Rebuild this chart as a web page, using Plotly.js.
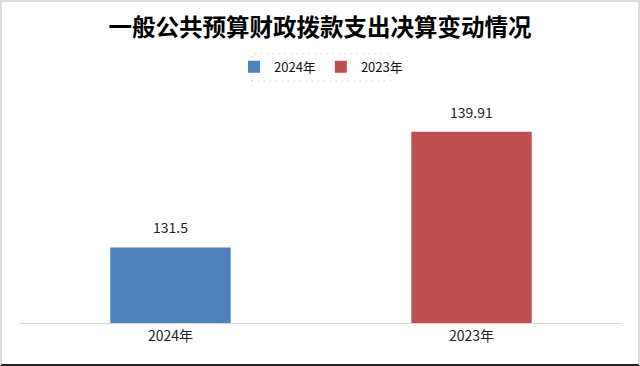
<!DOCTYPE html>
<html>
<head>
<meta charset="utf-8">
<script src="https://cdn.plot.ly/plotly-3.0.1.min.js"></script>
<style>
  html, body { margin: 0; padding: 0; background: #fff; }
  #frame { position: absolute; left: 0; top: 0; width: 640px; height: 366px; box-sizing: border-box;
           border-top: 2px solid #dcdcdc; border-left: 2px solid #dcdcdc; border-right: 2px solid #dcdcdc; border-bottom: 2px solid #222; }
  #chart { position: absolute; left: 0; top: 0; width: 636px; height: 362px; }
</style>
</head>
<body>
<div id="frame"><div id="chart"></div></div>
<script>
const chartTitle = '一般公共预算财政拨款支出决算变动情况';
const categories = ['2024年', '2023年'];
const seriesNames = ['2024年', '2023年'];
const values = [131.5, 139.91];
const colors = ['#4f81bd', '#c0504d'];
const labels = ['131.5', '139.91'];

const font = '"Noto Sans CJK SC", "Noto Sans", sans-serif';

const traces = categories.map((c, i) => ({
  type: 'bar',
  name: seriesNames[i],
  x: [c],
  y: [values[i]],
  marker: { color: colors[i] },
  hoverinfo: 'skip'
}));

const annotations = categories.map((c, i) => ({
  x: c, y: values[i], xref: 'x', yref: 'y',
  text: labels[i], showarrow: false, yanchor: 'bottom', yshift: 8,
  font: { family: font, size: 14, color: '#222' }
}));

const layout = {
  width: 636, height: 362,
  margin: { l: 18, r: 16, t: 101, b: 41 },
  paper_bgcolor: '#fff', plot_bgcolor: '#fff',
  title: { text: chartTitle, x: 0.5, xanchor: 'center', y: 0.928, yanchor: 'middle',
           font: { family: font, size: 23.5, color: '#000', weight: 'bold' } },
  barmode: 'overlay',
  bargap: 0.6,
  showlegend: true,
  legend: { orientation: 'h', x: 0.5, xanchor: 'center', y: 1.165, yanchor: 'middle',
            font: { family: font, size: 13, color: '#111' }, itemwidth: 30, traceorder: 'normal',
            bgcolor: 'rgba(0,0,0,0)' },
  xaxis: { type: 'category', categoryorder: 'array', categoryarray: categories,
           showline: true, linecolor: '#d9d9d9', linewidth: 1, ticks: '', showgrid: false,
           tickfont: { family: font, size: 14, color: '#222' } },
  yaxis: { range: [126, 142], visible: false, showgrid: false, zeroline: false },
  shapes: [{ type: 'rect', xref: 'paper', yref: 'paper', x0: 0.385, x1: 0.615, y0: 1.10, y1: 1.223,
             line: { color: '#c4cc94', width: 1, dash: '1px,5px' } }],
  annotations: annotations
};

Plotly.newPlot('chart', traces, layout, { displayModeBar: false, staticPlot: true });
</script>
</body>
</html>
